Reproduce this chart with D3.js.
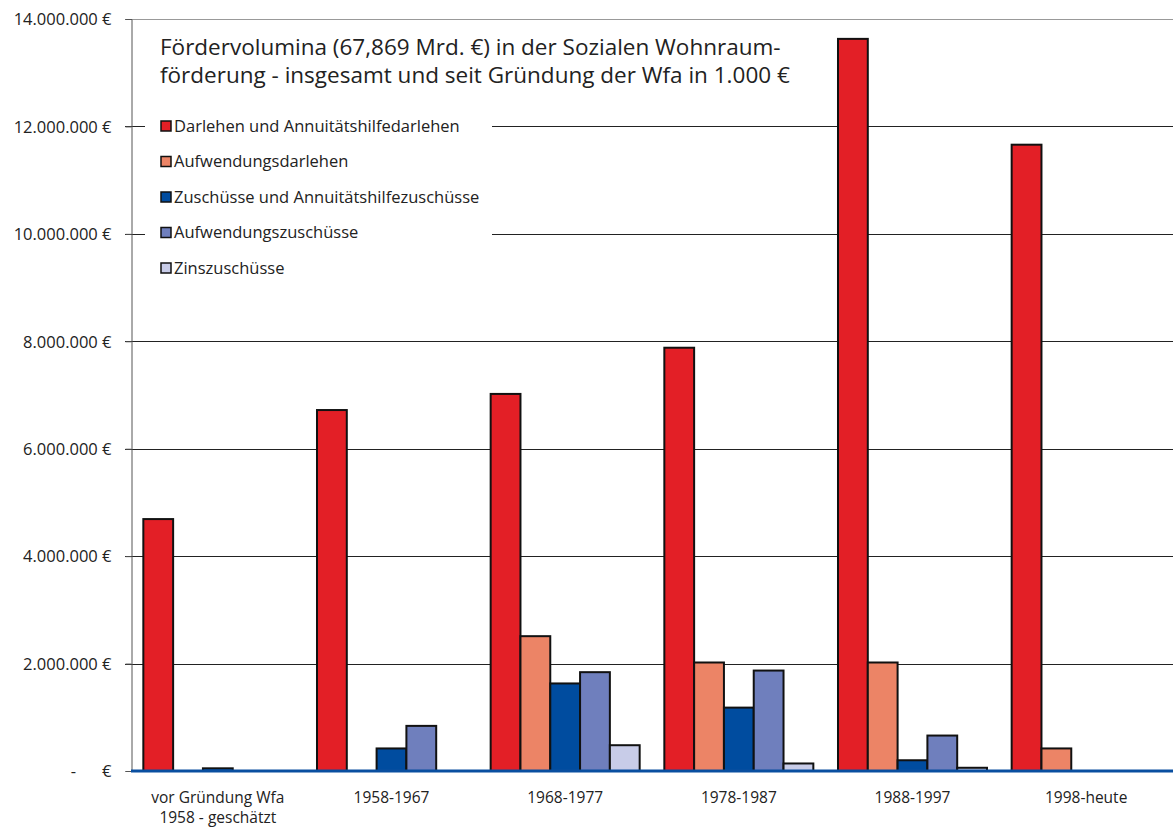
<!DOCTYPE html>
<html><head><meta charset="utf-8">
<script src="https://cdn.jsdelivr.net/npm/d3@7"></script>
<style>body{margin:0;background:#fff}svg{display:block}text{font-family:"Open Sans","Noto Sans",sans-serif;fill:#222}</style>
</head><body>
<script>
const categories = ["vor Gründung Wfa|1958 - geschätzt","1958-1967","1968-1977","1978-1987","1988-1997","1998-heute"];
const seriesNames = ["Darlehen und Annuitätshilfedarlehen","Aufwendungsdarlehen","Zuschüsse und Annuitätshilfezuschüsse","Aufwendungszuschüsse","Zinszuschüsse"];
const seriesColors = ["#e31f26","#ec8466","#004c9f","#6f7fbd","#c8cce8"];
const darlehen       = [4690000, 6720000, 7020000, 7880000, 13630000, 11660000];
const aufwDarlehen   = [0, 0, 2510000, 2020000, 2020000, 420000];
const zuschuesse     = [50000, 420000, 1630000, 1180000, 200000, 0];
const aufwZuschuesse = [0, 840000, 1840000, 1870000, 660000, 0];
const zinszuschuesse = [0, 0, 480000, 140000, 60000, 0];
const tickValues = [0,2000000,4000000,6000000,8000000,10000000,12000000,14000000];
const tickLabels = ["-","2.000.000 €","4.000.000 €","6.000.000 €","8.000.000 €","10.000.000 €","12.000.000 €","14.000.000 €"];
const titleLines = ["Fördervolumina (67,869 Mrd. €) in der Sozialen Wohnraum-","förderung - insgesamt und seit Gründung der Wfa in 1.000 €"];

const series = [darlehen, aufwDarlehen, zuschuesse, aufwZuschuesse, zinszuschuesse];
const W = 1173, H = 828;
const mLeft = 131, mRight = 1173, mTop = 19, mBottom = 771;
const svg = d3.select("body").append("svg").attr("width", W).attr("height", H);

const y = d3.scaleLinear().domain([0, 14000000]).range([mBottom, mTop]);
const x0 = d3.scaleBand().domain(categories).range([mLeft, mRight]).paddingInner(0.142).paddingOuter(0.071);
const x1 = d3.scaleBand().domain(d3.range(series.length)).range([0, x0.bandwidth()]);

// gridlines
svg.append("g").selectAll("line").data(tickValues.filter(d => d > 0)).join("line")
  .attr("x1", mLeft - 6).attr("x2", mRight)
  .attr("y1", d => Math.round(y(d)) + 0.5).attr("y2", d => Math.round(y(d)) + 0.5)
  .attr("stroke", d => d === 14000000 ? "#999" : "#222").attr("stroke-width", 1);

// y axis
const yAxis = d3.axisLeft(y).tickValues(tickValues).tickSize(6).tickPadding(0).tickFormat("");
const ga = svg.append("g").attr("transform", `translate(${mLeft + 0.5},0)`).call(yAxis);
ga.select(".domain").attr("stroke", "#555");
ga.selectAll(".tick line").attr("stroke", "#555");
ga.selectAll(".tick").each(function(d, i) {
  const g = d3.select(this);
  if (d === 0) {
    g.append("text").attr("x", -58).attr("dy", "0.35em").attr("text-anchor", "middle").style("font-size", "16.5px").text("-");
    g.append("text").attr("x", -20).attr("dy", "0.35em").attr("text-anchor", "end").style("font-size", "16.5px").text("€");
  } else {
    g.append("text").attr("x", -20).attr("dy", "0.35em").attr("text-anchor", "end").style("font-size", "16.5px").text(tickLabels[i]);
  }
});

// legend background box
svg.append("rect").attr("x", 145).attr("y", 105).attr("width", 347).attr("height", 180).attr("fill", "#fff");

// bars
const groups = svg.append("g").selectAll("g").data(categories).join("g")
  .attr("transform", d => `translate(${x0(d)},0)`);
groups.selectAll("rect").data((c, ci) => series.map((s, si) => ({si, v: s[ci]})).filter(d => d.v > 0)).join("rect")
  .attr("x", d => x1(d.si)).attr("width", x1.bandwidth())
  .attr("y", d => y(d.v)).attr("height", d => mBottom - y(d.v))
  .attr("fill", d => seriesColors[d.si]).attr("stroke", "#111").attr("stroke-width", 2);

// baseline
svg.append("line").attr("x1", mLeft).attr("x2", mRight).attr("y1", mBottom).attr("y2", mBottom)
  .attr("stroke", "#0a4fa0").attr("stroke-width", 3);

// x labels
svg.append("g").selectAll("text").data(categories).join("text")
  .attr("x", d => x0(d) + x0.bandwidth() / 2).attr("y", 803)
  .attr("text-anchor", "middle").style("font-size", "15.5px")
  .each(function(d) {
    const parts = d.split("|");
    d3.select(this).selectAll("tspan").data(parts).join("tspan")
      .attr("x", x0(d) + x0.bandwidth() / 2).attr("dy", (p, i) => i === 0 ? 0 : 20).text(p => p);
  });

// title
svg.append("g").selectAll("text").data(titleLines).join("text")
  .attr("x", 160).attr("y", (d, i) => 55 + i * 28).style("font-size", "22.5px").text(d => d);

// legend
const lg = svg.append("g").selectAll("g").data(seriesNames).join("g")
  .attr("transform", (d, i) => `translate(160,${126 + i * 35.5})`);
lg.append("rect").attr("x", 1).attr("y", -5).attr("width", 10).attr("height", 10)
  .attr("fill", (d, i) => seriesColors[i]).attr("stroke", "#111").attr("stroke-width", 1.5);
lg.append("text").attr("x", 14).attr("dy", "0.35em").style("font-size", "16.5px").text(d => d);
</script>
</body></html>
